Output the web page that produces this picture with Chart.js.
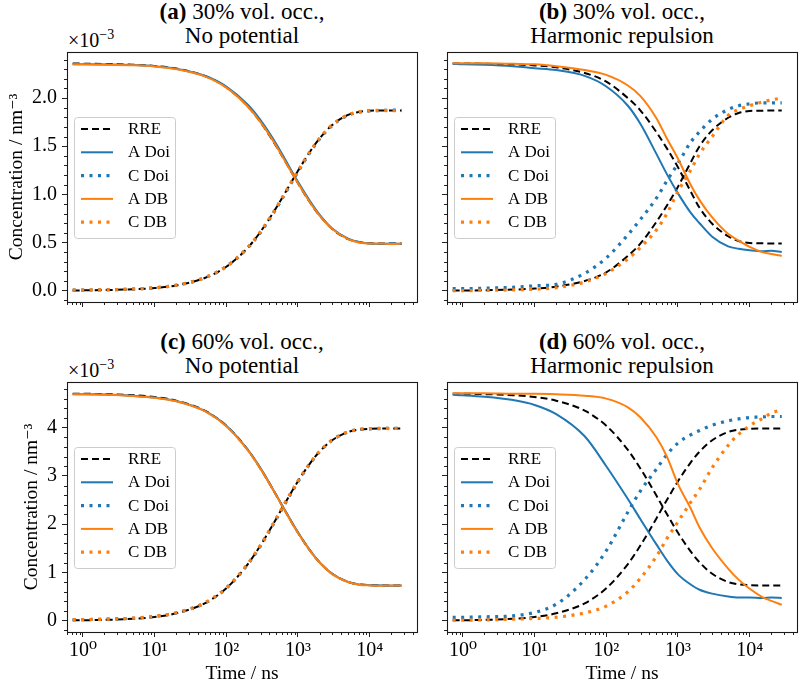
<!DOCTYPE html>
<html>
<head>
<meta charset="utf-8">
<script src="https://cdn.jsdelivr.net/npm/chart.js@4.4.1/dist/chart.umd.min.js"></script>
<style>
  html, body { margin: 0; padding: 0; background: #fff; }
  #fig { position: relative; width: 800px; height: 684px; overflow: hidden;
         font-family: "Liberation Serif", "DejaVu Serif", serif; color: #000; }
  canvas { position: absolute; }
  .ttl { position: absolute; width: 350px; text-align: center; font-size: 23px; line-height: 24px; }
  .off { position: absolute; font-size: 20px; line-height: 20px; }
  .off sup { font-size: 14px; line-height: 0; vertical-align: 8px; }
</style>
</head>
<body>
<div id="fig">
  <div class="ttl" style="left:67px;top:0px"><b>(a)</b> 30% vol. occ.,<br>No potential</div>
  <div class="ttl" style="left:447px;top:0px"><b>(b)</b> 30% vol. occ.,<br>Harmonic repulsion</div>
  <div class="ttl" style="left:67px;top:330px"><b>(c)</b> 60% vol. occ.,<br>No potential</div>
  <div class="ttl" style="left:447px;top:330px"><b>(d)</b> 60% vol. occ.,<br>Harmonic repulsion</div>
  <div class="off" style="left:68px;top:30px">×10<sup>−3</sup></div>
  <div class="off" style="left:68px;top:360px">×10<sup>−3</sup></div>
  <canvas id="pa" width="424" height="266" style="left:0;top:46px"></canvas>
  <canvas id="pb" width="360" height="266" style="left:440px;top:46px"></canvas>
  <canvas id="pc" width="424" height="308" style="left:0;top:376px"></canvas>
  <canvas id="pd" width="360" height="308" style="left:440px;top:376px"></canvas>
</div>
<script>
// time points (ns)
const time = [0.72, 1, 2, 5, 10, 20, 50, 100, 200, 300, 500, 700, 1000, 1500, 2000, 3000, 5000, 7000, 10000, 15000, 20000, 28000];

// 30% volume occupancy (x 1e-3 nm^-3)
const rre30A = [2.358, 2.357, 2.354, 2.346, 2.333, 2.306, 2.229, 2.112, 1.913, 1.749, 1.497, 1.313, 1.116, 0.907, 0.780, 0.640, 0.535, 0.505, 0.491, 0.490, 0.490, 0.490];
const rre30C = [0.002, 0.003, 0.006, 0.014, 0.027, 0.054, 0.131, 0.248, 0.447, 0.611, 0.863, 1.047, 1.244, 1.453, 1.580, 1.720, 1.825, 1.855, 1.869, 1.870, 1.870, 1.870];
const noPot30ADoi = [2.350, 2.350, 2.348, 2.342, 2.330, 2.305, 2.232, 2.120, 1.930, 1.770, 1.520, 1.330, 1.130, 0.920, 0.790, 0.645, 0.540, 0.505, 0.490, 0.485, 0.490, 0.485];
const noPot30CDoi = [0.005, 0.006, 0.008, 0.016, 0.029, 0.056, 0.133, 0.250, 0.445, 0.605, 0.855, 1.040, 1.235, 1.445, 1.575, 1.715, 1.822, 1.853, 1.866, 1.870, 1.875, 1.870];
const noPot30ADB = [2.350, 2.350, 2.347, 2.340, 2.328, 2.300, 2.225, 2.108, 1.910, 1.750, 1.500, 1.310, 1.115, 0.905, 0.780, 0.640, 0.535, 0.500, 0.490, 0.490, 0.485, 0.490];
const noPot30CDB = [0.005, 0.006, 0.009, 0.017, 0.030, 0.057, 0.135, 0.252, 0.450, 0.612, 0.865, 1.050, 1.245, 1.455, 1.582, 1.722, 1.826, 1.856, 1.868, 1.872, 1.868, 1.873];
const rreHarm30A = [2.358, 2.358, 2.356, 2.349, 2.339, 2.319, 2.260, 2.170, 1.999, 1.870, 1.646, 1.477, 1.281, 1.030, 0.860, 0.695, 0.565, 0.515, 0.495, 0.491, 0.490, 0.490];
const rreHarm30C = [0.002, 0.002, 0.004, 0.011, 0.021, 0.041, 0.100, 0.190, 0.361, 0.490, 0.714, 0.883, 1.079, 1.330, 1.500, 1.665, 1.795, 1.845, 1.865, 1.869, 1.870, 1.870];
const harm30ADoi = [2.355, 2.350, 2.345, 2.330, 2.310, 2.290, 2.230, 2.120, 1.920, 1.730, 1.420, 1.210, 1.010, 0.810, 0.700, 0.560, 0.460, 0.435, 0.420, 0.410, 0.415, 0.400];
const harm30CDoi = [0.020, 0.020, 0.025, 0.035, 0.050, 0.065, 0.180, 0.340, 0.580, 0.740, 0.960, 1.140, 1.320, 1.540, 1.650, 1.780, 1.880, 1.920, 1.940, 1.950, 1.950, 1.950];
const harm30ADB = [2.360, 2.360, 2.360, 2.355, 2.350, 2.330, 2.290, 2.240, 2.130, 2.020, 1.790, 1.580, 1.370, 1.100, 0.940, 0.760, 0.590, 0.520, 0.455, 0.400, 0.380, 0.360];
const harm30CDB = [0.000, 0.000, 0.003, 0.008, 0.015, 0.030, 0.090, 0.180, 0.330, 0.450, 0.630, 0.800, 1.030, 1.250, 1.420, 1.600, 1.820, 1.880, 1.920, 1.960, 1.980, 2.000];

// 60% volume occupancy (x 1e-3 nm^-3)
const rre60A = [4.704, 4.702, 4.694, 4.671, 4.633, 4.558, 4.350, 4.039, 3.537, 3.149, 2.591, 2.208, 1.820, 1.434, 1.209, 0.971, 0.801, 0.752, 0.734, 0.730, 0.730, 0.730];
const rre60C = [0.006, 0.008, 0.016, 0.039, 0.077, 0.152, 0.360, 0.671, 1.173, 1.561, 2.119, 2.502, 2.890, 3.276, 3.501, 3.739, 3.909, 3.958, 3.976, 3.980, 3.980, 3.980];
const noPot60ADoi = [4.690, 4.690, 4.685, 4.660, 4.625, 4.550, 4.345, 4.040, 3.540, 3.160, 2.600, 2.220, 1.830, 1.440, 1.210, 0.970, 0.800, 0.750, 0.735, 0.730, 0.725, 0.730];
const noPot60CDoi = [0.020, 0.022, 0.030, 0.050, 0.088, 0.160, 0.365, 0.670, 1.170, 1.550, 2.110, 2.490, 2.880, 3.270, 3.500, 3.740, 3.910, 3.960, 3.975, 3.980, 3.985, 3.980];
const noPot60ADB = [4.690, 4.690, 4.680, 4.655, 4.620, 4.545, 4.340, 4.030, 3.530, 3.145, 2.590, 2.205, 1.815, 1.430, 1.205, 0.965, 0.800, 0.745, 0.730, 0.725, 0.730, 0.725];
const noPot60CDB = [0.020, 0.022, 0.030, 0.052, 0.090, 0.163, 0.370, 0.680, 1.180, 1.565, 2.125, 2.510, 2.895, 3.280, 3.505, 3.745, 3.912, 3.962, 3.980, 3.985, 3.980, 3.990];
const harm60ADoi = [4.680, 4.670, 4.640, 4.570, 4.470, 4.280, 3.820, 3.200, 2.520, 2.100, 1.580, 1.250, 0.960, 0.750, 0.640, 0.560, 0.500, 0.480, 0.480, 0.470, 0.480, 0.470];
const harm60CDoi = [0.070, 0.070, 0.080, 0.100, 0.170, 0.340, 0.850, 1.450, 2.250, 2.690, 3.140, 3.440, 3.680, 3.850, 3.940, 4.050, 4.140, 4.180, 4.210, 4.220, 4.230, 4.230];
const harm60ADB = [4.710, 4.710, 4.710, 4.700, 4.700, 4.690, 4.660, 4.600, 4.420, 4.210, 3.800, 3.400, 2.830, 2.330, 1.930, 1.500, 1.080, 0.850, 0.660, 0.490, 0.410, 0.330];
const harm60CDB = [0.010, 0.010, 0.015, 0.030, 0.045, 0.070, 0.160, 0.300, 0.600, 0.880, 1.330, 1.700, 2.050, 2.450, 2.720, 3.170, 3.630, 3.860, 4.040, 4.190, 4.300, 4.370];

// axis ticks
const xMajor = [1, 10, 100, 1000, 10000];
const yMajor30 = [0, 0.5, 1, 1.5, 2];
const yMajor60 = [0, 1, 2, 3, 4];

const FONT = '"Liberation Serif", "DejaVu Serif", serif';
const SUP = ['\u2070', '\u00b9', '\u00b2', '\u00b3', '\u2074'];
const BLUE = '#1f77b4', ORANGE = '#ff7f0e';
const DASH = [7, 4], DOT = [3, 5.5];

function pts(ys) {
  return time.map((t, i) => ({ x: t, y: ys[i] }));
}

function line(label, ys, color, dash, width, inLegend) {
  return {
    label: label, data: pts(ys), borderColor: color, borderWidth: width,
    borderDash: dash, borderCapStyle: 'butt', pointRadius: 0, fill: false,
    cubicInterpolationMode: 'monotone', inLegend: inLegend
  };
}

function datasets(rA, rC, aDoi, cDoi, aDB, cDB) {
  const list = [
    line('RRE', rA, '#000', DASH, 2, true),
    line('RRE', rC, '#000', DASH, 2, false),
    line('A Doi', aDoi, BLUE, [], 2, true),
    line('C Doi', cDoi, BLUE, DOT, 3.2, true),
    line('A DB', aDB, ORANGE, [], 2, true),
    line('C DB', cDB, ORANGE, DOT, 3.2, true)
  ];
  // first drawn at bottom, like matplotlib
  list.forEach((d, i) => { d.order = list.length - i; });
  return list;
}

// frame, minor ticks and legend box
const decor = {
  id: 'decor',
  afterDatasetsDraw(chart, args, opts) {
    const { ctx, chartArea: a, scales } = chart;
    ctx.save();
    // legend
    const items = chart.data.datasets.filter(d => d.inLegend);
    const x0 = a.left + 7.5, y0 = Math.round(a.top + 64.5) + 0.5;
    ctx.beginPath();
    ctx.roundRect(x0, y0, 101, 121, 3);
    ctx.fillStyle = 'rgba(255,255,255,0.8)';
    ctx.fill();
    ctx.strokeStyle = '#cccccc';
    ctx.lineWidth = 1;
    ctx.stroke();
    ctx.font = '17px ' + FONT;
    ctx.textBaseline = 'middle';
    items.forEach((d, i) => {
      const y = y0 + 11.5 + i * 23.3;
      ctx.beginPath();
      ctx.setLineDash(d.borderDash);
      ctx.lineCap = 'butt';
      ctx.strokeStyle = d.borderColor;
      ctx.lineWidth = d.borderWidth;
      ctx.moveTo(x0 + 6.5, y);
      ctx.lineTo(x0 + 38.5, y);
      ctx.stroke();
      ctx.setLineDash([]);
      ctx.fillStyle = '#000';
      ctx.fillText(d.label, x0 + 53.5, y + 0.5);
    });
    // minor ticks
    ctx.strokeStyle = '#222';
    ctx.lineWidth = 1;
    ctx.beginPath();
    for (let e = -1; e <= 4; e++) {
      for (let k = 2; k <= 9; k++) {
        const v = k * Math.pow(10, e);
        if (v < scales.x.min || v > scales.x.max) continue;
        const px = Math.round(scales.x.getPixelForValue(v)) + 0.5;
        ctx.moveTo(px, a.bottom);
        ctx.lineTo(px, a.bottom + 3);
      }
    }
    const step = opts.yMinor;
    for (let v = Math.ceil(scales.y.min / step) * step; v <= scales.y.max; v += step) {
      const r = Math.round(v / step) * step;
      if (Math.abs(r / opts.yMajorStep - Math.round(r / opts.yMajorStep)) < 1e-6) continue;
      const py = Math.round(scales.y.getPixelForValue(r)) + 0.5;
      ctx.moveTo(a.left, py);
      ctx.lineTo(a.left - 3, py);
    }
    ctx.stroke();
    // frame
    ctx.strokeStyle = '#1a1a1a';
    ctx.lineWidth = 1.1;
    ctx.strokeRect(Math.round(a.left) + 0.5, Math.round(a.top) + 0.5,
      Math.round(a.right - a.left), Math.round(a.bottom - a.top));
    ctx.restore();
  }
};

function panel(id, ds, cfg) {
  new Chart(document.getElementById(id), {
    type: 'line',
    data: { datasets: ds },
    plugins: [decor],
    options: {
      responsive: false,
      animation: false,
      devicePixelRatio: 1,
      layout: { padding: { top: 6, right: cfg.padRight, left: 0, bottom: 0 } },
      plugins: {
        legend: { display: false },
        tooltip: { enabled: false },
        decor: { yMinor: cfg.yMinor, yMajorStep: cfg.yMajor[1] - cfg.yMajor[0] }
      },
      scales: {
        x: {
          type: 'logarithmic',
          min: 0.62,
          max: 45700,
          afterBuildTicks: axis => { axis.ticks = xMajor.map(v => ({ value: v, major: true })); },
          afterFit: scale => {
            scale.height = cfg.xH;
            scale.paddingLeft = 0;
            scale.paddingRight = 0;
          },
          grid: { drawOnChartArea: false, drawTicks: true, tickLength: 5, color: '#222', lineWidth: 1 },
          border: { display: false },
          ticks: {
            display: cfg.xLabels, autoSkip: false, maxRotation: 0, padding: 2, color: '#000',
            font: { family: FONT, size: 20 },
            callback: v => '10' + SUP[Math.round(Math.log10(v))]
          },
          title: {
            display: cfg.xLabels, text: 'Time / ns', color: '#000',
            font: { family: FONT, size: 19.5, lineHeight: 1 }, padding: { top: 0, bottom: 0 }
          }
        },
        y: {
          type: 'linear',
          min: cfg.yMin,
          max: cfg.yMax,
          afterBuildTicks: axis => { axis.ticks = cfg.yMajor.map(v => ({ value: v })); },
          afterFit: scale => {
            scale.width = cfg.yW;
            scale.paddingTop = 0;
            scale.paddingBottom = 0;
          },
          grid: { drawOnChartArea: false, drawTicks: true, tickLength: 5, color: '#222', lineWidth: 1 },
          border: { display: false },
          ticks: {
            display: cfg.yLabels, padding: 5, color: '#000',
            font: { family: FONT, size: 20 },
            callback: v => cfg.yDigits ? v.toFixed(cfg.yDigits) : String(v)
          },
          title: {
            display: cfg.yLabels, text: 'Concentration / nm\u207b\u00b3', color: '#000',
            font: { family: FONT, size: 19.5, lineHeight: 1 }, padding: { top: cfg.yTitlePad, bottom: 0 }
          }
        }
      }
    }
  });
}

const row30 = { yMin: -0.118, yMax: 2.478, yMajor: yMajor30, yMinor: 0.1, yDigits: 1, xH: 10 };
const row60 = { yMin: -0.235, yMax: 4.945, yMajor: yMajor60, yMinor: 0.2, yDigits: 0, xH: 52 };

panel('pa', datasets(rre30A, rre30C, noPot30ADoi, noPot30CDoi, noPot30ADB, noPot30CDB),
  Object.assign({}, row30, { yW: 67, padRight: 7, yLabels: true, xLabels: false, yTitlePad: 7.5 }));
panel('pb', datasets(rreHarm30A, rreHarm30C, harm30ADoi, harm30CDoi, harm30ADB, harm30CDB),
  Object.assign({}, row30, { yW: 7, padRight: 3, yLabels: false, xLabels: false, yTitlePad: 0 }));
panel('pc', datasets(rre60A, rre60C, noPot60ADoi, noPot60CDoi, noPot60ADB, noPot60CDB),
  Object.assign({}, row60, { yW: 67, padRight: 7, yLabels: true, xLabels: true, yTitlePad: 22 }));
panel('pd', datasets(rre60A, rre60C, harm60ADoi, harm60CDoi, harm60ADB, harm60CDB),
  Object.assign({}, row60, { yW: 7, padRight: 3, yLabels: false, xLabels: true, yTitlePad: 0 }));
</script>
</body>
</html>
